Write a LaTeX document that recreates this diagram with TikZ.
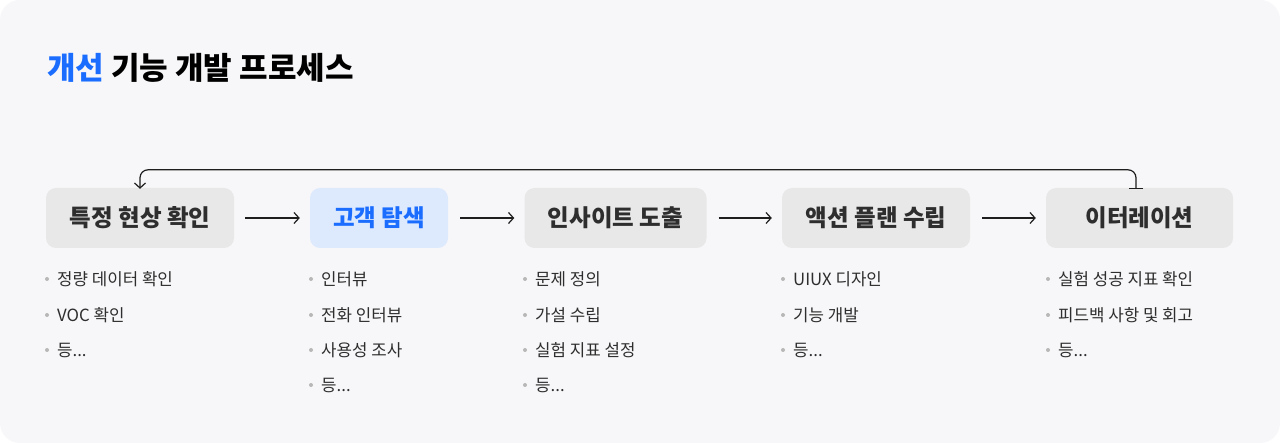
\documentclass[tikz,border=0pt]{standalone}
\usepackage{fontspec}
\setmainfont{Noto Sans CJK KR}
\usetikzlibrary{arrows.meta,positioning}
\definecolor{bg}{HTML}{F7F7F9}
\definecolor{boxgray}{HTML}{E8E8E8}
\definecolor{boxblue}{HTML}{DDE9FD}
\definecolor{accent}{HTML}{1A6DFF}
\definecolor{txt}{HTML}{2E2E2E}
\definecolor{dotc}{HTML}{B8B8B8}
\definecolor{linec}{HTML}{1E1E1E}
\tikzset{
  stepbox/.style={fill=boxgray, rounded corners=10pt, minimum height=60pt, inner sep=0pt,
    text=txt, font=\fontsize{23.5}{27}\selectfont\bfseries},
  flow/.style={draw=linec, line width=1.2pt, -{Straight Barb[length=5pt,width=11pt,line width=1.2pt]}},
  item/.style={anchor=west, inner sep=0pt, text=txt, font=\fontsize{16.8}{20}\selectfont},
  bdot/.style={circle, fill=dotc, inner sep=0pt, minimum size=4pt},
}
\newcommand{\bitem}[4]{%
  \node[bdot] (#1d) at (#2,#3) {};
  \node[item] (#1t) at (#2+10,#3) {#4};
}
\begin{document}
\begin{tikzpicture}[x=1pt,y=-1pt]
\useasboundingbox (0,0) rectangle (1280,443);
\fill[white] (0,0) rectangle (1280,443);
\fill[bg, rounded corners=20pt] (0,0) rectangle (1280,443);

\node[anchor=west, inner sep=0pt, font=\fontsize{31}{36}\selectfont\bfseries] (title) at (47,68)
  {\textcolor{accent}{개선} \textcolor{black}{기능 개발 프로세스}};

\node[stepbox, minimum width=188pt] (b1) at (140,218) {특정 현상 확인};
\node[stepbox, minimum width=138pt, fill=boxblue, text=accent] (b2) at (379,218) {고객 탐색};
\node[stepbox, minimum width=182pt] (b3) at (615.5,218) {인사이트 도출};
\node[stepbox, minimum width=188pt] (b4) at (876,218) {액션 플랜 수립};
\node[stepbox, minimum width=187pt] (b5) at (1139.5,218) {이터레이션};

\draw[flow] ([xshift=11pt]b1.east) -- ([xshift=-10pt]b2.west);
\draw[flow] ([xshift=12pt]b2.east) -- ([xshift=-10pt]b3.west);
\draw[flow] ([xshift=12pt]b3.east) -- ([xshift=-10pt]b4.west);
\draw[flow] ([xshift=12pt]b4.east) -- ([xshift=-10pt]b5.west);

\coordinate (lstart) at ([xshift=-3.5pt]b5.north);
\coordinate (lend) at (b1.north);
\draw[draw=linec, line width=1.2pt, rounded corners=8pt,
  {Bar[width=14pt,line width=1.2pt]}-{Straight Barb[length=5pt,width=11pt,line width=1.2pt]}]
  ([yshift=-1pt]lstart) -- ++(0,-19) -| ([yshift=-1pt]lend);

\bitem{a1}{47}{279}{정량 데이터 확인}
\bitem{a2}{47}{315}{VOC 확인}
\bitem{a3}{47}{350}{등...}

\bitem{c1}{311}{279}{인터뷰}
\bitem{c2}{311}{315}{전화 인터뷰}
\bitem{c3}{311}{350}{사용성 조사}
\bitem{c4}{311}{385}{등...}

\bitem{e1}{525}{279}{문제 정의}
\bitem{e2}{525}{315}{가설 수립}
\bitem{e3}{525}{350}{실험 지표 설정}
\bitem{e4}{525}{385}{등...}

\bitem{g1}{783}{279}{UIUX 디자인}
\bitem{g2}{783}{315}{기능 개발}
\bitem{g3}{783}{350}{등...}

\bitem{h1}{1048}{279}{실험 성공 지표 확인}
\bitem{h2}{1048}{315}{피드백 사항 및 회고}
\bitem{h3}{1048}{350}{등...}
\end{tikzpicture}
\end{document}
